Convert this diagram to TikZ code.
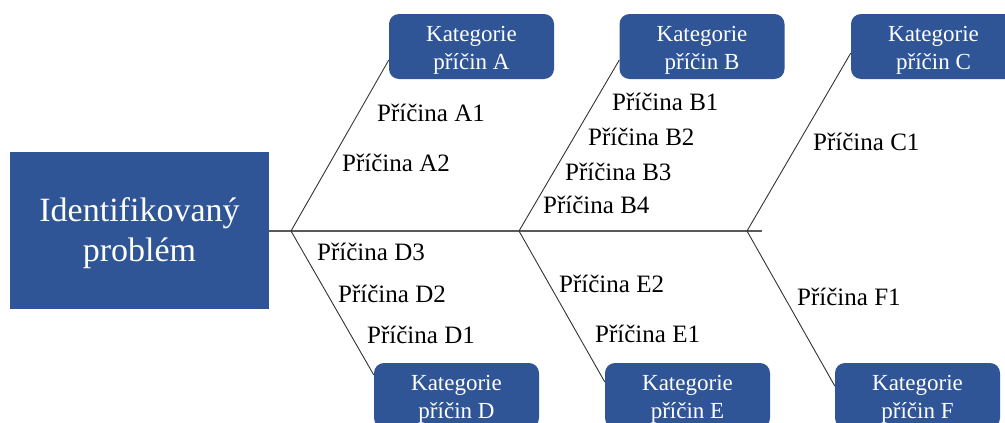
\documentclass[tikz,border=0pt]{standalone}
\usepackage{fontspec}
\setmainfont{Liberation Serif}
\usetikzlibrary{calc}
\definecolor{boxblue}{RGB}{47,85,151}
\begin{document}
\begin{tikzpicture}[x=1pt,y=-1pt,
  problembox/.style={fill=boxblue, draw=none, minimum width=259pt, minimum height=157pt,
    text=white, align=center, font=\fontsize{34}{40}\selectfont, inner sep=0pt},
  catbox/.style={fill=boxblue, draw=none, rounded corners=10pt, minimum width=165pt,
    minimum height=65pt, text=white, align=center, font=\fontsize{23}{28.3}\selectfont, inner sep=0pt},
  cause/.style={anchor=base west, font=\fontsize{25}{30}\selectfont, inner sep=0pt},
  spine/.style={draw=black!65, line width=1.4pt},
  bone/.style={draw=black!80, line width=0.9pt}]
\clip (0,0) rectangle (1005,423);

% effect (head of the fish)
\node[problembox] (prob) at (139.5,230.5) {\rule{0pt}{30pt}Identifikovaný\\problém};

% category boxes
\node[catbox] (A) at (471.5,46.5) {\rule{0pt}{23pt}Kategorie\\příčin A};
\node[catbox] (B) at (702,46.5)   {\rule{0pt}{23pt}Kategorie\\příčin B};
\node[catbox] (C) at (933.5,46.5) {\rule{0pt}{23pt}Kategorie\\příčin C};
\node[catbox] (D) at (456.5,395.5) {\rule{0pt}{23pt}Kategorie\\příčin D};
\node[catbox] (E) at (687.5,395.5) {\rule{0pt}{23pt}Kategorie\\příčin E};
\node[catbox] (F) at (917.5,395.5) {\rule{0pt}{23pt}Kategorie\\příčin F};

% points on the spine where the bones meet it
\coordinate (jA) at (291,231);
\coordinate (jB) at (519,231);
\coordinate (jC) at (747,231);
\coordinate (tail) at (762,231);

% spine
\draw[spine] (prob.east |- jA) -- (tail);

% bones
\draw[bone] (jA) -- ($(A.west)+(0,13.5)$);
\draw[bone] (jB) -- ($(B.west)+(0,13.5)$);
\draw[bone] (jC) -- ($(C.west)+(0,6.5)$);
\draw[bone] (jA) -- ($(D.west)+(0,-20.5)$);
\draw[bone] (jB) -- ($(E.west)+(0,-13.5)$);
\draw[bone] (jC) -- ($(F.west)+(0,-9.5)$);

% causes
\node[cause] (a1) at (377,121) {Příčina A1};
\node[cause] (a2) at (342,171) {Příčina A2};
\node[cause] (b1) at (612,110) {Příčina B1};
\node[cause] (b2) at (588,145) {Příčina B2};
\node[cause] (b3) at (565,180) {Příčina B3};
\node[cause] (b4) at (543,213) {Příčina B4};
\node[cause] (c1) at (813,150) {Příčina C1};
\node[cause] (d3) at (317,260) {Příčina D3};
\node[cause] (d2) at (338,302) {Příčina D2};
\node[cause] (d1) at (367,343) {Příčina D1};
\node[cause] (e2) at (559,292) {Příčina E2};
\node[cause] (e1) at (595,342) {Příčina E1};
\node[cause] (f1) at (797,305) {Příčina F1};
\end{tikzpicture}
\end{document}
